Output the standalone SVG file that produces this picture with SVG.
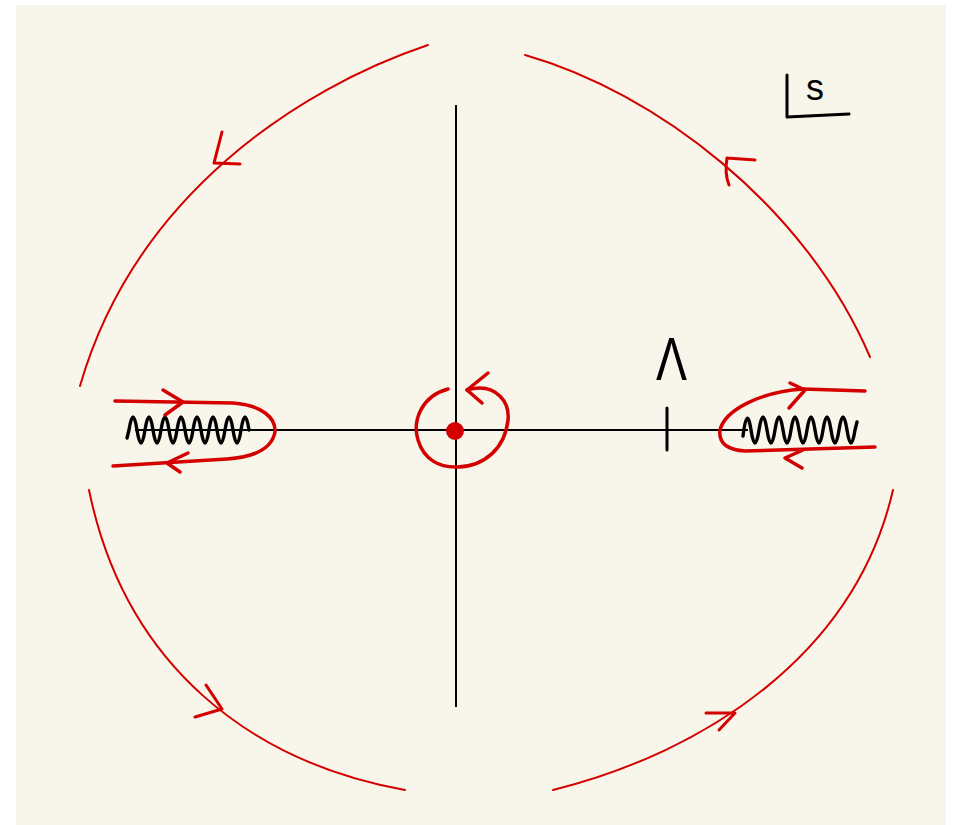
<svg xmlns="http://www.w3.org/2000/svg" width="953" height="825" viewBox="0 0 953 825">
<style>
.arc{fill:none;stroke:#d40000;stroke-width:2;stroke-linecap:round;stroke-linejoin:round}
.head{fill:none;stroke:#d40000;stroke-width:3;stroke-linecap:round;stroke-linejoin:round}
.red{fill:none;stroke:#d40000;stroke-width:3.5;stroke-linecap:round;stroke-linejoin:round}
.ax{fill:none;stroke:#000;stroke-width:2}
.zig{fill:none;stroke:#000;stroke-width:3.4;stroke-linecap:round;stroke-linejoin:round}
.ink{fill:none;stroke:#000;stroke-width:3;stroke-linecap:round;stroke-linejoin:round}
.lbl{font-family:"Liberation Sans","DejaVu Sans",sans-serif;fill:#000}
</style>
<rect x="16" y="5" width="930" height="820" fill="#f8f6ea"/>
<g id="axes">
<line class="ax" x1="135" y1="430" x2="748" y2="430"/>
<line class="ax" x1="456" y1="105" x2="456" y2="707"/>
<line class="ink" x1="667" y1="408" x2="667" y2="450"/>
</g>
<g id="contour">
<path class="arc" d="M428,45 C300,88 135,195 80,386"/>
<path class="head" d="M214,163 L222,132 M214,163 L240,164"/>
<path class="arc" d="M525,55 C655,92 805,205 870,357"/>
<path class="head" d="M727,158 L755,160 M727,158 C725,170 727,180 729,185"/>
<path class="arc" d="M89,490 C125,665 250,762 405,790"/>
<path class="head" d="M222,709 L206,685 M222,709 L195,717"/>
<path class="arc" d="M553,790 C705,752 855,655 893,490"/>
<path class="head" d="M735,713 L706,713 M735,713 L719,730"/>
</g>
<g id="left-cut">
<path class="zig" d="M127,438 L129,430 Q133,404 137,430 T145,430 T153,430 T161,430 T169,430 T177,430 T185,430 T193,430 T201,430 T209,430 T217,430 T225,430 T233,430 T241,430 T249,430"/>
<path class="red" d="M115,401 L233,403 C262,405 276,418 275,432 C272,448 255,457 227,459 L113,466"/>
<path class="red" d="M183,402 L163,390 M183,402 L165,415"/>
<path class="red" d="M167,463 L188,453 M167,463 L180,472"/>
</g>
<g id="right-cut">
<path class="zig" d="M743,436 Q747,404 751,430 T759,430 T767,430 T775,430 T783,430 T791,430 T799,430 T807,430 T815,430 T823,430 T831,430 T839,430 T847,430 T855,430 L857,422"/>
<path class="red" d="M865,391 L803,389 C760,392 725,410 720,430 C718,445 730,450 745,451 L875,447"/>
<path class="red" d="M805,390 L790,383 M805,390 L789,408"/>
<path class="red" d="M785,458 L803,450 M785,458 L802,468"/>
</g>
<g id="origin">
<circle cx="455" cy="431" r="9" fill="#d40000"/>
<path class="red" d="M448,389 C422,396 412,420 418,440 C424,460 440,468 458,467 C485,466 505,448 508,420 C510,400 495,388 480,388 C474,388 470,389 467,390"/>
<path class="red" d="M467,390 L488,373 M467,390 L482,403"/>
</g>
<g id="labels">
<text class="lbl" x="656" y="380" font-size="62" textLength="31" lengthAdjust="spacingAndGlyphs">Λ</text>
<path class="ink" d="M787,75 L787,117 L849,114"/>
<text class="lbl" x="806" y="100" font-size="36">s</text>
</g>
</svg>
